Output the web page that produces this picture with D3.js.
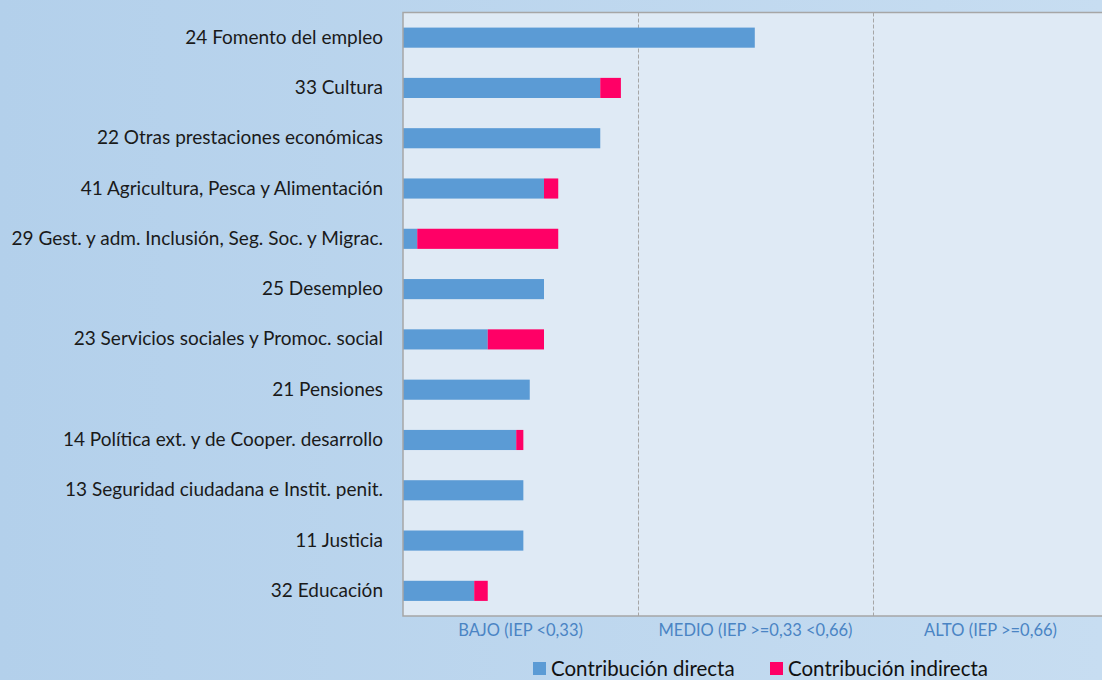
<!DOCTYPE html>
<meta charset="utf-8">
<style>
body { margin: 0; }
svg { display: block; font-family: Lato, "Open Sans", sans-serif; }
.cat text { font-size: 19px; fill: #1a1a1a; font-family: Lato, sans-serif; }
.zone { font-size: 16.5px; fill: #4a84c4; }
.legend text { font-size: 20.5px; fill: #111; }
</style>
<body>
<svg width="1102" height="680"></svg>
<script src="https://d3js.org/d3.v7.min.js"></script>
<script>

var categories = [
  "24 Fomento del empleo",
  "33 Cultura",
  "22 Otras prestaciones económicas",
  "41 Agricultura, Pesca y Alimentación",
  "29 Gest. y adm. Inclusión, Seg. Soc. y Migrac.",
  "25 Desempleo",
  "23 Servicios sociales y Promoc. social",
  "21 Pensiones",
  "14 Política ext. y de Cooper. desarrollo",
  "13 Seguridad ciudadana e Instit. penit.",
  "11 Justicia",
  "32 Educación"
];
var directa   = [0.494, 0.277, 0.277, 0.198, 0.020, 0.198, 0.119, 0.178, 0.159, 0.169, 0.169, 0.100];
var indirecta = [0.000, 0.029, 0.000, 0.020, 0.198, 0.000, 0.079, 0.000, 0.010, 0.000, 0.000, 0.019];
var zoneBreaks = [0.33, 0.66];
var zoneLabels = ["BAJO (IEP <0,33)", "MEDIO (IEP >=0,33 <0,66)", "ALTO (IEP >=0,66)"];
var seriesNames = ["Contribución directa", "Contribución indirecta"];
var colors = ["#5b9bd5", "#ff0066"];

var svg = d3.select("svg"),
    margin = {top: 12.5, right: -6, bottom: 64, left: 403},
    width = +svg.attr("width") - margin.left - margin.right,
    height = +svg.attr("height") - margin.top - margin.bottom;

// background gradient
var defs = svg.append("defs");
var grad = defs.append("linearGradient").attr("id", "bg")
    .attr("x1", "0").attr("y1", "0").attr("x2", "1").attr("y2", "0");
grad.append("stop").attr("offset", "0").attr("stop-color", "#b3d0eb");
grad.append("stop").attr("offset", "1").attr("stop-color", "#c7ddf1");
svg.append("rect").attr("width", 1102).attr("height", 680).attr("fill", "url(#bg)");

var x = d3.scaleLinear().domain([0, 0.99]).range([0, width]);
var y = d3.scaleBand().domain(categories).range([0, height]).paddingInner(0.6).paddingOuter(0.3);

var g = svg.append("g")
    .attr("transform", "translate(" + margin.left + "," + margin.top + ")");

g.append("rect")
    .attr("width", width).attr("height", height)
    .attr("fill", "#dfeaf5");

// dashed zone lines
g.selectAll(".zline")
  .data(zoneBreaks)
  .enter().append("line")
    .attr("x1", function(d) { return Math.round(x(d)) + 0.5; })
    .attr("x2", function(d) { return Math.round(x(d)) + 0.5; })
    .attr("y1", 0).attr("y2", height)
    .attr("stroke", "#a6a6a6")
    .attr("stroke-dasharray", "4,2");

// bars
var rows = g.selectAll(".row")
  .data(categories)
  .enter().append("g")
    .attr("class", "row");

rows.append("rect")
    .attr("x", x(0))
    .attr("y", function(d) { return y(d); })
    .attr("width", function(d, i) { return x(directa[i]) - x(0); })
    .attr("height", y.bandwidth())
    .attr("fill", colors[0]);

rows.append("rect")
    .attr("x", function(d, i) { return x(directa[i]); })
    .attr("y", function(d) { return y(d); })
    .attr("width", function(d, i) { return x(directa[i] + indirecta[i]) - x(directa[i]); })
    .attr("height", y.bandwidth())
    .attr("fill", colors[1]);

// frame (top, left, bottom)
g.append("path")
    .attr("d", "M" + (width + 10) + ",0H0V" + height + "H" + (width + 10))
    .attr("fill", "none")
    .attr("stroke", "#a6a6a6")
    .attr("stroke-width", 1.5);

// category axis
g.append("g")
    .attr("class", "cat")
    .call(d3.axisLeft(y).tickSize(0).tickPadding(20))
    .attr("font-family", null)
    .attr("font-size", null)
    .call(function(a) { a.select(".domain").remove(); });

// zone labels
var zoneMid = [0.165, 0.495, 0.825];
g.selectAll(".zone")
  .data(zoneLabels)
  .enter().append("text")
    .attr("class", "zone")
    .attr("x", function(d, i) { return x(zoneMid[i]); })
    .attr("y", height + 20)
    .attr("text-anchor", "middle")
    .text(function(d) { return d; });

// legend
var legend = svg.append("g").attr("class", "legend");
var legendX = [533, 770];
legendX.forEach(function(lx, i) {
  legend.append("rect")
      .attr("x", lx).attr("y", 662)
      .attr("width", 13).attr("height", 13)
      .attr("fill", colors[i]);
  legend.append("text")
      .attr("x", lx + 18).attr("y", 676)
      .text(seriesNames[i]);
});

</script>
</body>
